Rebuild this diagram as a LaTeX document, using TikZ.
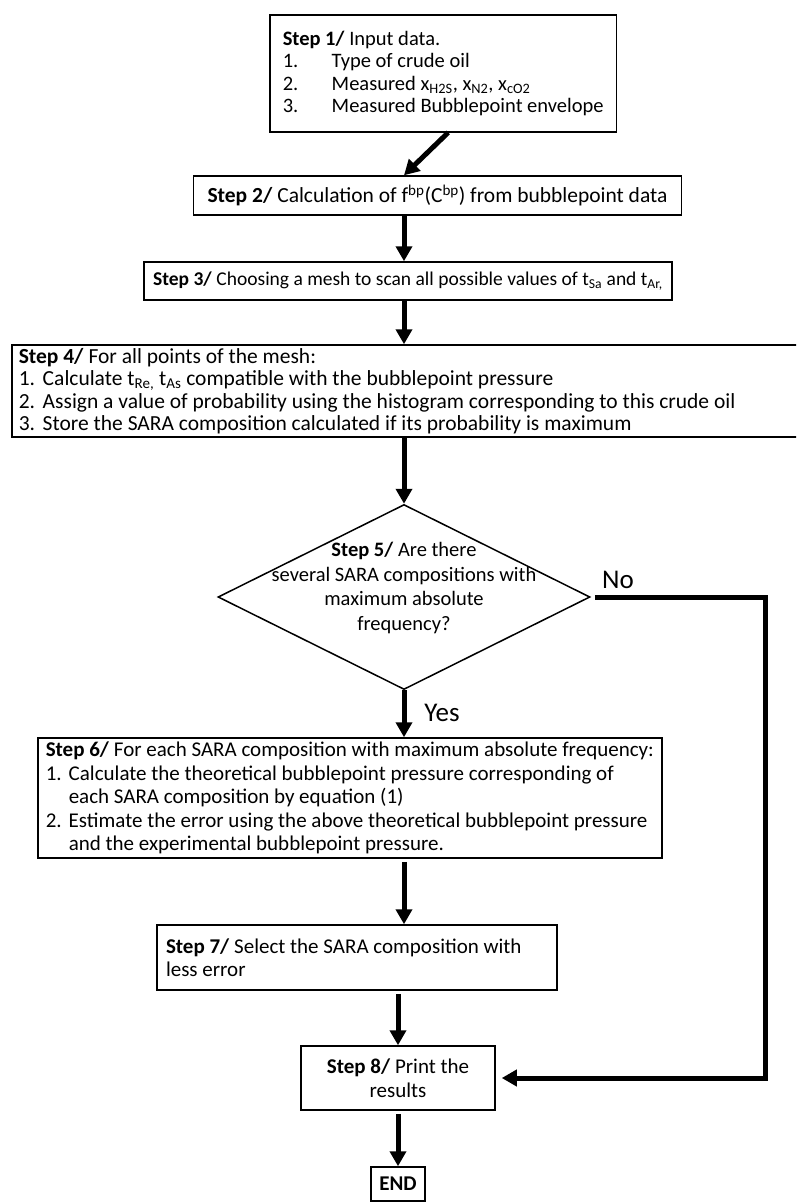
\documentclass[tikz,border=0pt]{standalone}
\usepackage{fontspec}
\setmainfont{Carlito}
\usetikzlibrary{shapes.geometric,arrows.meta}
\newcommand{\stp}[1]{\textbf{Step #1/}}
\newcommand{\lo}[1]{\textsubscript{#1}}
\newcommand{\hi}[1]{\textsuperscript{#1}}
\newcommand{\num}[2]{\makebox[#1][l]{#2}}
\newcommand{\fs}[2]{\fontsize{#1}{#2}\selectfont}
\begin{document}
\begin{tikzpicture}[x=1pt,y=-1pt]
  \tikzstyle{stepbox}=[draw, line width=1.5pt, rectangle, inner ysep=0pt, font=\fs{21}{22.5}]
  \tikzstyle{flow}=[line width=5pt, -{Triangle[length=15pt,width=16pt]}]
  \tikzstyle{answer}=[font=\fs{27}{30}]
  \clip (0,0) rectangle (796,1202);
  \fill[white] (0,0) rectangle (796,1202);
  % boxes
  \node[stepbox, anchor=north west, inner xsep=13pt, minimum height=117, align=flush left, font=\fs{20.5}{22.5}] (s1) at (269,14) {\stp{1} Input data.\\
    \num{49pt}{1.}Type of crude oil\\
    \num{49pt}{2.}Measured x\lo{H2S}, x\lo{N2}, x\lo{cO2}\\
    \num{49pt}{3.}Measured Bubblepoint envelope};
  \node[stepbox, inner xsep=14pt, minimum height=39, font=\fs{21.5}{22.5}] (s2) at (437.5,195.5) {\stp{2} Calculation of f\hi{bp}(C\hi{bp}) from bubblepoint data};
  \node[stepbox, inner xsep=9pt, minimum height=38, font=\fs{19.5}{22.5}] (s3) at (408,281) {\stp{3} Choosing a mesh to scan all possible values of t\lo{Sa} and t\lo{Ar,}};
  \node[stepbox, anchor=west, inner xsep=7pt, minimum width=799, minimum height=92, text width=785, align=flush left, font=\fs{21.5}{22.5}] (s4) at (11,391) {\stp{4} For all points of the mesh:\\
    \num{24pt}{1.}Calculate t\lo{Re,} t\lo{As} compatible with the bubblepoint pressure\\
    \num{24pt}{2.}Assign a value of probability using the histogram corresponding to this crude oil\\
    \num{24pt}{3.}Store the SARA composition calculated if its probability is maximum};
  \node[draw, diamond, line width=1.5pt, minimum width=372, minimum height=185, inner sep=0pt] (s5) at (404,597) {};
  \node[font=\fs{20.5}{24.5}, align=center] (q5) at (404,588) {\stp{5} Are there\\several SARA compositions with\\maximum absolute\\frequency?};
  \node[stepbox, anchor=west, inner xsep=8pt, minimum height=120, align=flush left, font=\fs{21}{23.5}] (s6) at (37,798) {\stp{6} For each SARA composition with maximum absolute frequency:\\
    \num{23pt}{1.}Calculate the theoretical bubblepoint pressure corresponding of\\
    \hspace*{23pt}each SARA composition by equation (1)\\
    \num{23pt}{2.}Estimate the error using the above theoretical bubblepoint pressure\\
    \hspace*{23pt}and the experimental bubblepoint pressure.};
  \node[stepbox, inner xsep=9pt, minimum width=400, minimum height=65, text width=382, align=flush left, font=\fs{21}{23.5}] (s7) at (357,957.5) {\stp{7} Select the SARA composition with\\less error};
  \node[stepbox, minimum width=194, minimum height=64, align=center, font=\fs{21}{23.5}] (s8) at (398,1078) {\stp{8} Print the\\results};
  \node[stepbox, minimum width=54, minimum height=34] (end) at (398,1184) {\textbf{END}};
  % labels
  \node[answer] (no) at (618,580) {No};
  \node[answer] (yes) at (442,713) {Yes};
  % connectors
  \draw[flow] ([xshift=5pt]s1.south) -- (s2.north -| s5.north);
  \draw[flow] (s2.south -| s5.north) -- (s3.north -| s5.north);
  \draw[flow] (s3.south -| s5.north) -- (s4.north -| s5.north);
  \draw[flow] (s4.south -| s5.north) -- (s5.north);
  \draw[flow] (s5.south) -- (s6.north -| s5.south);
  \draw[flow, shorten <=3pt] (s6.south -| s5.south) -- (s7.north -| s5.south);
  \draw[flow, shorten <=3pt] (s7.south -| s8.north) -- (s8.north);
  \draw[flow, shorten <=3pt] (s8.south) -- (end.north);
  \draw[flow, shorten >=6pt] ([xshift=4pt]s5.east) -- ++(171,0) |- (s8.east);
\end{tikzpicture}
\end{document}
